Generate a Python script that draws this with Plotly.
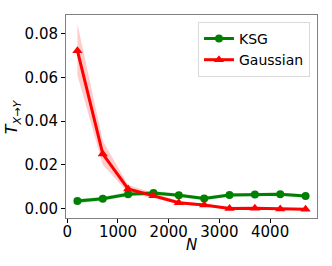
import plotly.graph_objects as go

n_samples = [200, 700, 1200, 1700, 2200, 2700, 3200, 3700, 4200, 4700]

ksg_mean = [0.0035, 0.0045, 0.0066, 0.0071, 0.0061, 0.0046, 0.0062, 0.0065, 0.0066, 0.0058]
ksg_lo = [0.0025, 0.0036, 0.0056, 0.0062, 0.0053, 0.0038, 0.0054, 0.0057, 0.0058, 0.0050]
ksg_hi = [0.0045, 0.0054, 0.0076, 0.0080, 0.0069, 0.0054, 0.0070, 0.0073, 0.0074, 0.0066]

gauss_mean = [0.0722, 0.0250, 0.0090, 0.0059, 0.0027, 0.0016, 0.0001, 0.0002, -0.0002, -0.0003]
gauss_lo = [0.0610, 0.0200, 0.0072, 0.0048, 0.0019, 0.0010, -0.0004, -0.0003, -0.0006, -0.0007]
gauss_hi = [0.0845, 0.0310, 0.0108, 0.0070, 0.0035, 0.0022, 0.0006, 0.0007, 0.0002, 0.0001]

fig = go.Figure()

def add_band(lo, hi, fill):
    fig.add_trace(go.Scatter(x=n_samples, y=hi, mode='lines', line=dict(width=0),
                             showlegend=False, hoverinfo='skip'))
    fig.add_trace(go.Scatter(x=n_samples, y=lo, mode='lines', line=dict(width=0),
                             fill='tonexty', fillcolor=fill, showlegend=False, hoverinfo='skip'))

add_band(ksg_lo, ksg_hi, 'rgba(0,128,0,0.2)')
add_band(gauss_lo, gauss_hi, 'rgba(255,0,0,0.2)')

fig.add_trace(go.Scatter(x=n_samples, y=ksg_mean, mode='lines+markers', name='KSG',
                         line=dict(color='#008000', width=3),
                         marker=dict(symbol='circle', size=8, color='#008000')))
fig.add_trace(go.Scatter(x=n_samples, y=gauss_mean, mode='lines+markers', name='Gaussian',
                         line=dict(color='#ff0000', width=3),
                         marker=dict(symbol='triangle-up', size=9, color='#ff0000')))

axis_style = dict(showgrid=False, zeroline=False, showline=True, linecolor='#808080',
                  linewidth=1, mirror=True, ticks='outside', ticklen=4, tickcolor='black',
                  tickfont=dict(size=15, color='black'))

fig.update_xaxes(range=[-25, 4925], tickvals=[0, 1000, 2000, 3000, 4000],
                 ticklabelstandoff=-4, **axis_style)
fig.update_yaxes(range=[-0.0043, 0.0885], tickvals=[0, 0.02, 0.04, 0.06, 0.08],
                 tickformat='.2f', **axis_style)

# axis labels placed by hand so they sit as close to the ticks as in the original
fig.add_annotation(text='<i>N</i>', xref='paper', yref='paper', x=0.5, y=-0.135,
                   yanchor='middle', showarrow=False, font=dict(size=15, color='black'))
fig.add_annotation(text='<i>T</i><sub><i>X</i>→<i>Y</i></sub>', xref='paper', yref='paper',
                   x=-0.212, y=0.5, xanchor='center', yanchor='middle', textangle=-90,
                   showarrow=False, font=dict(size=16, color='black'))

fig.update_layout(
    width=332, height=266,
    margin=dict(l=66, r=15, t=15, b=48),
    plot_bgcolor='white', paper_bgcolor='white',
    font=dict(family='DejaVu Sans', color='black'),
    legend=dict(x=0.972, y=0.966, xanchor='right', yanchor='top', traceorder='normal',
                bordercolor='#d9d9d9', borderwidth=1, bgcolor='rgba(255,255,255,0.8)',
                font=dict(size=14), tracegroupgap=0),
)

# drop the browser's default 8px body margin so the figure sits at the page corner
fig.write_html("out.html", config={'displayModeBar': False},
               post_script="document.body.style.margin='0';")
